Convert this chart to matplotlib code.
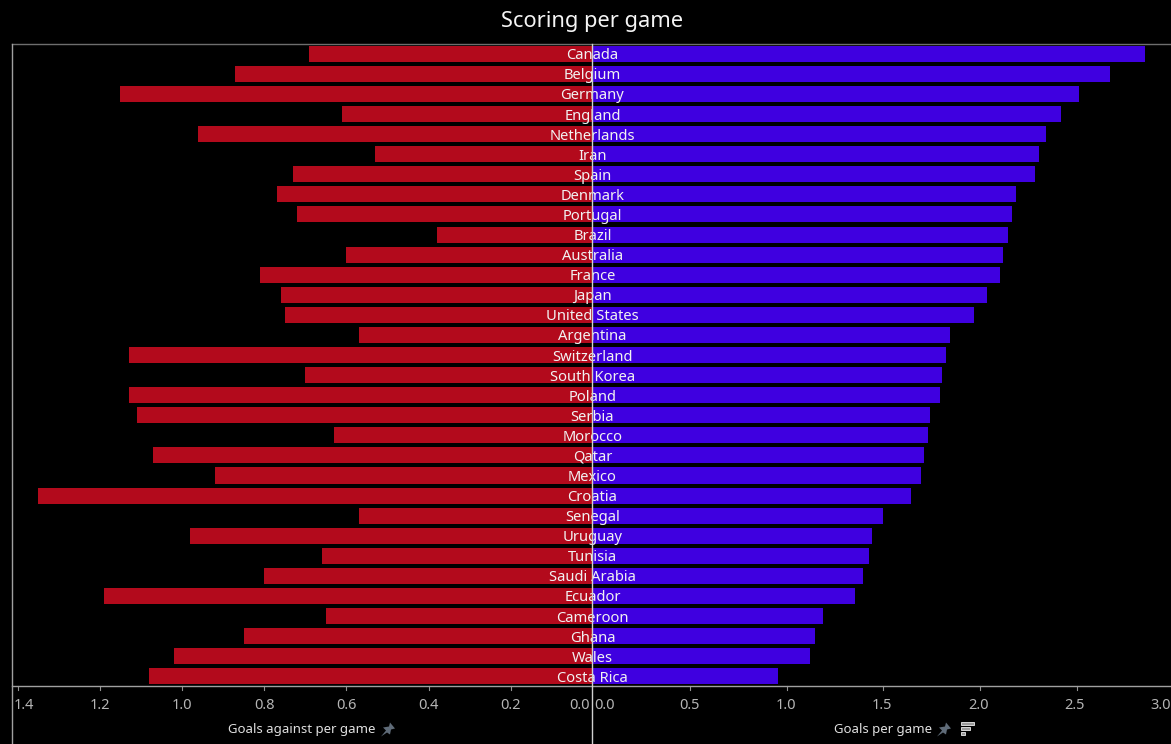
import matplotlib
matplotlib.use('Agg')
import matplotlib.pyplot as plt
from matplotlib.lines import Line2D
from matplotlib.patches import FancyBboxPatch, Polygon
from matplotlib.transforms import ScaledTranslation

plt.rcParams['font.family'] = ['Noto Sans', 'DejaVu Sans']

# Countries top to bottom, sorted by goals per game
countries = ['Canada', 'Belgium', 'Germany', 'England', 'Netherlands', 'Iran', 'Spain', 'Denmark',
             'Portugal', 'Brazil', 'Australia', 'France', 'Japan', 'United States', 'Argentina',
             'Switzerland', 'South Korea', 'Poland', 'Serbia', 'Morocco', 'Qatar', 'Mexico',
             'Croatia', 'Senegal', 'Uruguay', 'Tunisia', 'Saudi Arabia', 'Ecuador', 'Cameroon',
             'Ghana', 'Wales', 'Costa Rica']
goals_against = [0.69, 0.87, 1.15, 0.61, 0.96, 0.53, 0.73, 0.77, 0.72, 0.38, 0.60, 0.81, 0.76, 0.75,
                 0.57, 1.13, 0.70, 1.13, 1.11, 0.63, 1.07, 0.92, 1.35, 0.57, 0.98, 0.66, 0.80, 1.19,
                 0.65, 0.85, 1.02, 1.08]
goals_for = [2.865, 2.685, 2.52, 2.43, 2.35, 2.315, 2.295, 2.195, 2.175, 2.155, 2.13, 2.11, 2.045, 1.98,
             1.855, 1.83, 1.81, 1.80, 1.75, 1.74, 1.72, 1.705, 1.65, 1.505, 1.45, 1.435, 1.40, 1.36,
             1.195, 1.15, 1.125, 0.96]
left_ticks = [1.4, 1.2, 1.0, 0.8, 0.6, 0.4, 0.2, 0.0]
right_ticks = [0.0, 0.5, 1.0, 1.5, 2.0, 2.5, 3.0]

W, H = 1171, 744
BG = '#000000'
RED = '#b30a1c'
BLUE = '#3f00e0'
TXT = '#f2f2f2'
TICK = '#b5b5b5'
ICON = '#5f6b78'

fig = plt.figure(figsize=(W / 100, H / 100), dpi=100, facecolor=BG)

# pixel box -> figure fraction
def box(x0, y0, x1, y1):
    return [x0 / W, 1 - y1 / H, (x1 - x0) / W, (y1 - y0) / H]

def px(x, y):
    return (x / W, 1 - y / H)

# axes run a bit past the axis line so the last bar ends right on it
ax_l = fig.add_axes(box(12, 43.8, 593, 686.3))
ax_r = fig.add_axes(box(593, 43.8, 1171, 686.3))
rows = list(range(len(countries)))

ax_l.barh(rows, goals_against, height=0.8, color=RED)
ax_r.barh(rows, goals_for, height=0.8, color=BLUE)

ax_l.set_xlim(581 / 411.0, 0)
ax_r.set_xlim(0, 578 / 193.6)

for ax, ticks in ((ax_l, left_ticks), (ax_r, right_ticks)):
    ax.set_facecolor(BG)
    ax.set_ylim(len(countries) - 0.5, -0.5)
    ax.set_yticks([])
    ax.set_xticks(ticks)
    ax.set_xticklabels([f'{t:.1f}' for t in ticks])
    ax.tick_params(axis='x', colors=TICK, labelsize=10.5, length=0, pad=8.5)
    for s in ax.spines.values():
        s.set_visible(False)

# end labels sit inside the plot edges
labs = ax_l.get_xticklabels()
labs[0].set_ha('left')
labs[-1].set_ha('right')
labs_r = ax_r.get_xticklabels()
labs_r[0].set_ha('left')
labs_r[-1].set_ha('right')
labs[0].set_transform(labs[0].get_transform() + ScaledTranslation(-4 / 100, 0, fig.dpi_scale_trans))
labs[-1].set_transform(labs[-1].get_transform() + ScaledTranslation(-3 / 100, 0, fig.dpi_scale_trans))
labs_r[0].set_transform(labs_r[0].get_transform() + ScaledTranslation(1 / 100, 0, fig.dpi_scale_trans))

# short tick marks hang below the axis line
for ax_ticks, to_px in ((left_ticks, lambda v: 593 - v * 411.0), (right_ticks, lambda v: 593 + v * 193.6)):
    for t in ax_ticks:
        if 0 < t < 3.0:
            fig.add_artist(Line2D([to_px(t) / W] * 2, [1 - 686 / H, 1 - 690 / H], color='#909090', lw=0.8))

# Country names straddle the centre line
for i, name in enumerate(countries):
    ax_r.text(-0.003, i, name, color=TXT, fontsize=10.6, ha='center', va='center_baseline',
              clip_on=False, zorder=5)

# mask the axes overrun below the axis line, then the frame lines
fig.add_artist(plt.Rectangle((0, 1 - 687.5 / H), 1, 2 / H, facecolor=BG, edgecolor='none', zorder=1))
fig.add_artist(Line2D([12 / W, 1], [1 - 44 / H] * 2, color='#6e6e6e', lw=1))
fig.add_artist(Line2D([12 / W, 1], [1 - 685.5 / H] * 2, color='#a0a0a0', lw=1))
fig.add_artist(Line2D([12 / W] * 2, [0, 1 - 44 / H], color='#a0a0a0', lw=1))
fig.add_artist(Line2D([592.5 / W] * 2, [0, 1 - 44 / H], color='#d0d0d0', lw=1, zorder=10))

fig.text(592 / W, 1 - 21 / H, 'Scoring per game', color='#f5f5f5', fontsize=15.7, ha='center', va='center')
fig.text(301.5 / W, 1 - 730 / H, 'Goals against per game', color='#e0e0e0', fontsize=9.5,
         fontweight='medium', ha='center', va='center')
fig.text(882.5 / W, 1 - 730 / H, 'Goals per game', color='#e0e0e0', fontsize=9.5,
         fontweight='medium', ha='center', va='center')

# pin and sort icons
def pin(cx, cy):
    pts = [(cx - 7, cy + 7), (cx - 2, cy + 1), (cx - 5, cy - 2), (cx + 1, cy - 3), (cx + 2, cy - 7),
           (cx + 7, cy - 1), (cx + 3, cy), (cx + 2, cy + 5), (cx - 1, cy + 3)]
    fig.add_artist(Polygon([px(a, b) for a, b in pts], closed=True, color=ICON, lw=0))

pin(388, 729.5)
pin(944, 729.5)
for y0, w in ((722, 13), (727, 9), (732, 5)):
    fig.add_artist(FancyBboxPatch(px(960.5, y0 + 3), w / W, 3 / H, boxstyle='square,pad=0',
                                  facecolor='#9a9a9a', edgecolor='#d8d8d8', lw=0.7))

fig.savefig('out.png', dpi=100, facecolor=BG)
